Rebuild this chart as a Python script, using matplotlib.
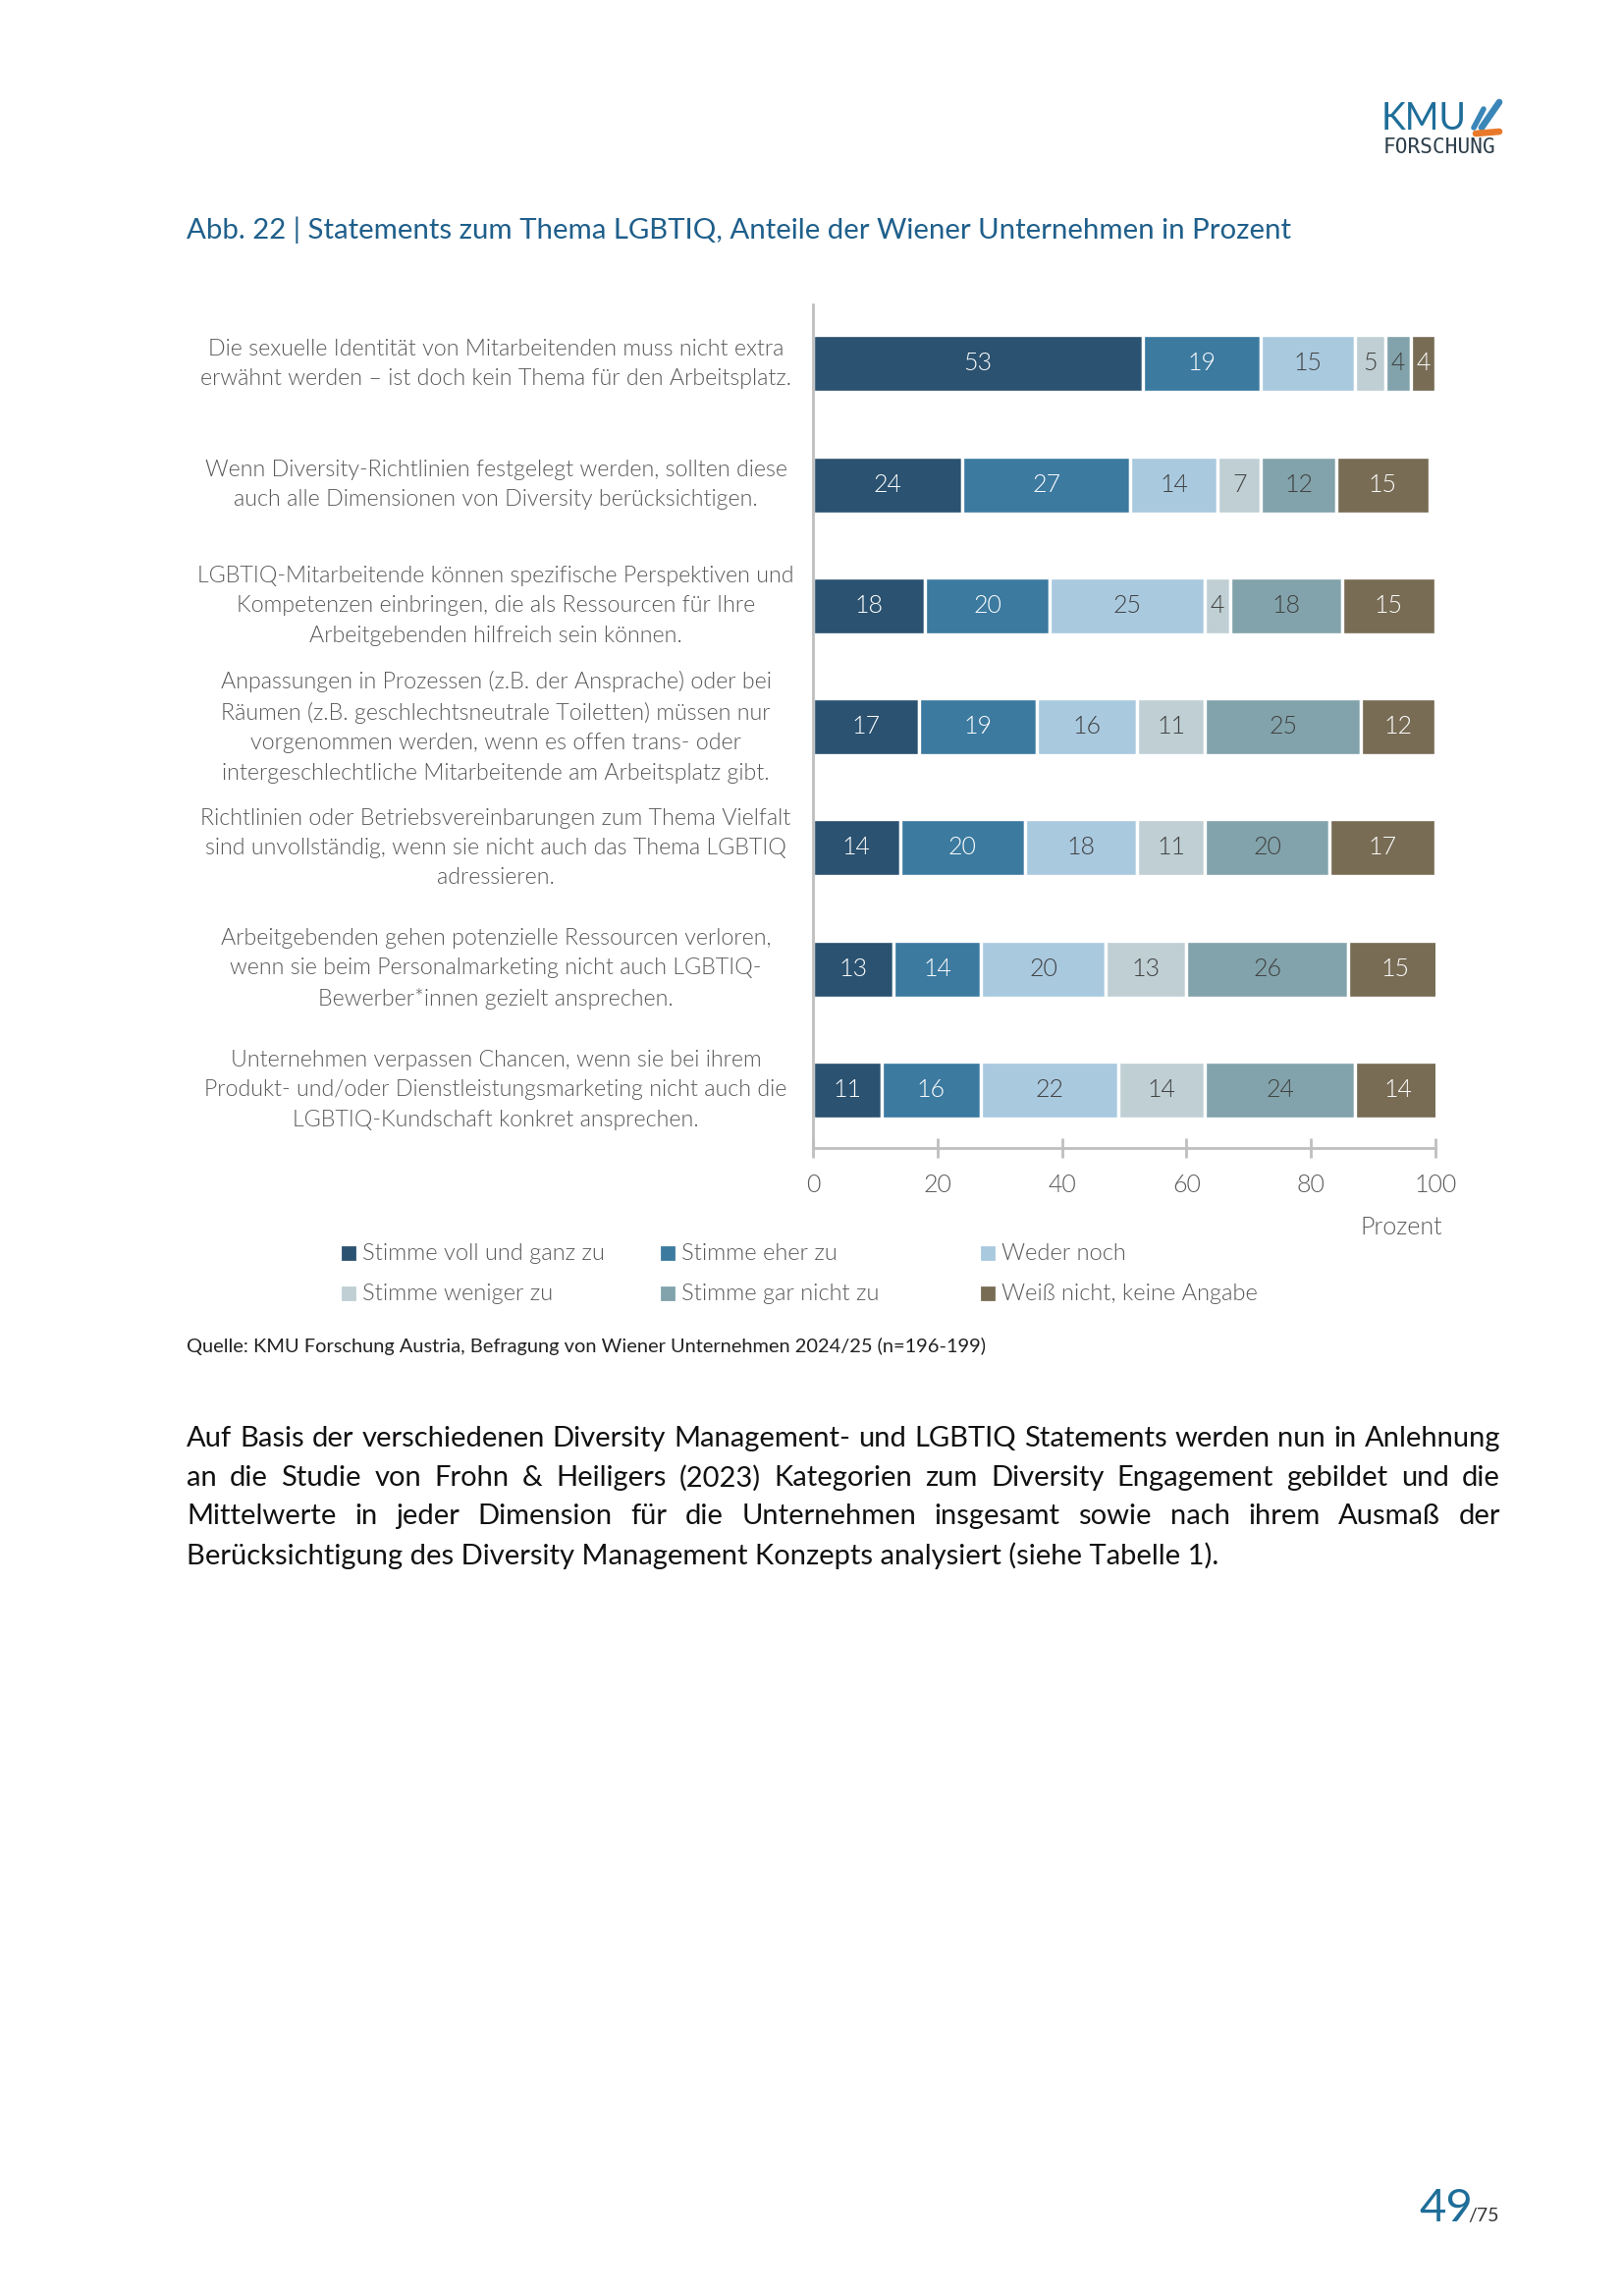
import numpy as np
import matplotlib
matplotlib.use("Agg")
import matplotlib.pyplot as plt
from matplotlib.patches import Rectangle
import matplotlib.transforms as mtransforms

plt.rcParams['font.family'] = ['Lato', 'DejaVu Sans']

W, H = 1653, 2338

# data
statements = [
    "Die sexuelle Identität von Mitarbeitenden muss nicht extra\nerwähnt werden – ist doch kein Thema für den Arbeitsplatz.",
    "Wenn Diversity-Richtlinien festgelegt werden, sollten diese\nauch alle Dimensionen von Diversity berücksichtigen.",
    "LGBTIQ-Mitarbeitende können spezifische Perspektiven und\nKompetenzen einbringen, die als Ressourcen für Ihre\nArbeitgebenden hilfreich sein können.",
    "Anpassungen in Prozessen (z.B. der Ansprache) oder bei\nRäumen (z.B. geschlechtsneutrale Toiletten) müssen nur\nvorgenommen werden, wenn es offen trans- oder\nintergeschlechtliche Mitarbeitende am Arbeitsplatz gibt.",
    "Richtlinien oder Betriebsvereinbarungen zum Thema Vielfalt\nsind unvollständig, wenn sie nicht auch das Thema LGBTIQ\nadressieren.",
    "Arbeitgebenden gehen potenzielle Ressourcen verloren,\nwenn sie beim Personalmarketing nicht auch LGBTIQ-\nBewerber*innen gezielt ansprechen.",
    "Unternehmen verpassen Chancen, wenn sie bei ihrem\nProdukt- und/oder Dienstleistungsmarketing nicht auch die\nLGBTIQ-Kundschaft konkret ansprechen.",
]
answers = ["Stimme voll und ganz zu", "Stimme eher zu", "Weder noch",
           "Stimme weniger zu", "Stimme gar nicht zu", "Weiß nicht, keine Angabe"]
voll_ganz = [53, 24, 18, 17, 14, 13, 11]
eher = [19, 27, 20, 19, 20, 14, 16]
weder = [15, 14, 25, 16, 18, 20, 22]
weniger = [5, 7, 4, 11, 11, 13, 14]
gar_nicht = [4, 12, 18, 25, 20, 26, 24]
weiss_nicht = [4, 15, 15, 12, 17, 15, 14]
series = [voll_ganz, eher, weder, weniger, gar_nicht, weiss_nicht]
x_ticks = [0, 20, 40, 60, 80, 100]

colors = ["#2b5270", "#3c7aa0", "#a9c9df", "#bfcfd4", "#82a3ab", "#786c55"]
label_colors = ["white", "white", "#404040", "#404040", "#404040", "white"]
TEXT = "#595959"
BLUE = "#1f5f8b"
LIGHT = 300


def fx(x):
    return x / W


def fy(y):
    return 1 - y / H


fig = plt.figure(figsize=(W / 200, H / 200), dpi=200)

# logo
fig.text(fx(1407), fy(121), "KMU", fontsize=13.5, color="#1f6e99", va="center", ha="left")
fig.text(fx(1409), fy(150), "FORSCHUNG", fontsize=7.6, color="#2d3e4a", va="center", ha="left",
         family="DejaVu Sans Mono")
fig.add_artist(plt.Line2D([fx(1501), fx(1511)], [fy(130), fy(111)], color="#3a86b8", lw=2.0,
                          solid_capstyle="round"))
fig.add_artist(plt.Line2D([fx(1509), fx(1527)], [fy(130), fy(104)], color="#3a86b8", lw=2.4,
                          solid_capstyle="round"))
fig.add_artist(plt.Line2D([fx(1503), fx(1527)], [fy(136), fy(134)], color="#e8792a", lw=2.4,
                          solid_capstyle="round"))

# title
fig.text(fx(190), fy(234), "Abb. 22 | Statements zum Thema LGBTIQ, Anteile der Wiener Unternehmen in Prozent",
         fontsize=10.6, color=BLUE, va="center", ha="left")

# chart
ax = fig.add_axes([fx(828), fy(1169), fx(1462 - 828), (1169 - 310) / H])
y = np.arange(len(statements))
left = np.zeros(len(statements))
for i, vals in enumerate(series):
    vals = np.array(vals)
    ax.barh(y, vals, left=left, height=0.47, color=colors[i], edgecolor="white", linewidth=1.2,
            label=answers[i])
    for yy, l, v in zip(y, left, vals):
        ax.text(l + v / 2, yy, str(v), ha="center", va="center", fontsize=9,
                color=label_colors[i], fontweight=LIGHT)
    left += vals

ax.set_xlim(0, 100)
ax.set_ylim(6.48, -0.49)
ax.set_xticks(x_ticks)
ax.set_yticks([])
for s in ["top", "right"]:
    ax.spines[s].set_visible(False)
ax.spines["left"].set_color("#bfbfbf")
ax.spines["bottom"].set_color("#bfbfbf")
ax.spines["left"].set_linewidth(1)
ax.spines["bottom"].set_linewidth(1)
ax.tick_params(axis="x", direction="inout", length=7, width=1, color="#bfbfbf",
               labelsize=9, labelcolor=TEXT, pad=6)
for t in ax.get_xticklabels():
    t.set_fontweight(LIGHT)

label_tr = mtransforms.blended_transform_factory(fig.transFigure, ax.transData)
for yy, s in zip(y, statements):
    ax.text(fx(505), yy, s, transform=label_tr, ha="center", va="center",
            multialignment="center", fontsize=8.4, color=TEXT, linespacing=1.55, fontweight=LIGHT)

fig.text(fx(1469), fy(1250), "Prozent", fontsize=9, color=TEXT, ha="right", va="center", fontweight=LIGHT)

# legend
leg_x = [355, 680, 1006]
leg_y = [1276, 1317]
for i, name in enumerate(answers):
    cx = leg_x[i % 3]
    cy = leg_y[i // 3]
    fig.add_artist(Rectangle((fx(cx - 6), fy(cy + 6)), 12 / W, 12 / H, color=colors[i],
                             transform=fig.transFigure))
    fig.text(fx(cx + 14), fy(cy), name, fontsize=8.5, color=TEXT, va="center", ha="left",
             fontweight=LIGHT)

fig.text(fx(190), fy(1371), "Quelle: KMU Forschung Austria, Befragung von Wiener Unternehmen 2024/25 (n=196-199)",
         fontsize=7.2, color="#222222", va="center", ha="left")

# body paragraph (justified)
body_lines = [
    "Auf Basis der verschiedenen Diversity Management- und LGBTIQ Statements werden nun in Anlehnung",
    "an die Studie von Frohn & Heiligers (2023) Kategorien zum Diversity Engagement gebildet und die",
    "Mittelwerte in jeder Dimension für die Unternehmen insgesamt sowie nach ihrem Ausmaß der",
    "Berücksichtigung des Diversity Management Konzepts analysiert (siehe Tabelle 1).",
]
body_y = [1465, 1505, 1544, 1584]
renderer = fig.canvas.get_renderer()
x0, x1 = 190, 1528
for k, (line, yy) in enumerate(zip(body_lines, body_y)):
    if k == len(body_lines) - 1:
        fig.text(fx(x0), fy(yy), line, fontsize=10.5, color="#111111", va="center", ha="left")
        continue
    words = line.split(" ")
    texts = [fig.text(0, fy(yy), w_, fontsize=10.5, color="#111111", va="center", ha="left") for w_ in words]
    widths = [t.get_window_extent(renderer).width for t in texts]
    gap = (x1 - x0 - sum(widths)) / (len(words) - 1)
    xpos = x0
    for t, wd in zip(texts, widths):
        t.set_x(fx(xpos))
        xpos += wd + gap

# page number
fig.text(fx(1527), fy(2262), "/75", fontsize=7, color="#333333", ha="right", va="baseline")
fig.text(fx(1500), fy(2262), "49", fontsize=17, color="#1f6e99", ha="right", va="baseline")

fig.savefig("out.png", dpi=200)
